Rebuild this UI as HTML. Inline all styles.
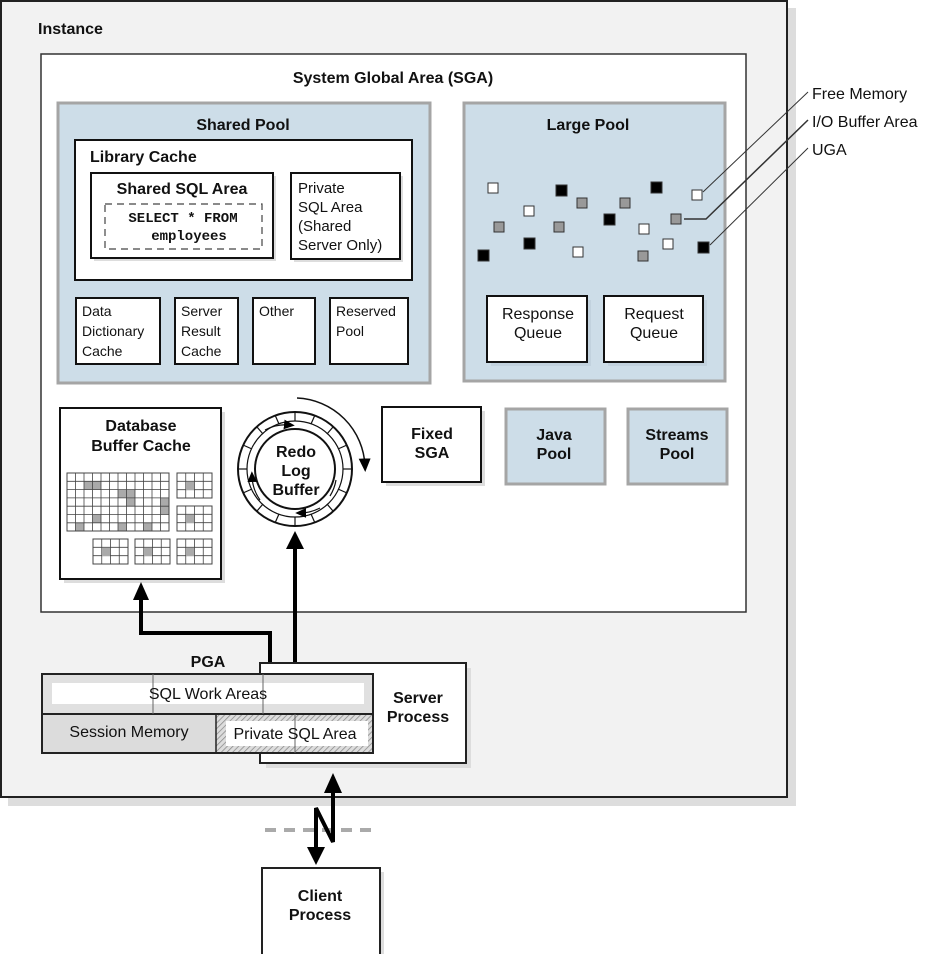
<!DOCTYPE html>
<html><head><meta charset="utf-8"><style>
html,body{margin:0;padding:0;background:#fff}
svg{display:block}
text{font-family:"Liberation Sans",Arial,sans-serif;fill:#111}
.b{font-weight:bold}
</style></head><body>
<svg width="949" height="954" viewBox="0 0 949 954" xmlns="http://www.w3.org/2000/svg">
<defs>
<pattern id="hatch" width="4" height="4" patternUnits="userSpaceOnUse" patternTransform="rotate(45)">
<rect width="4" height="4" fill="#ddd"/><line x1="0" y1="0" x2="0" y2="4" stroke="#888" stroke-width="1.5"/>
</pattern>
<g id="sg">
<rect x="0" y="0" width="35" height="25" fill="#fff" stroke="#444" stroke-width="1"/>
<path d="M8.75 0V25M17.5 0V25M26.25 0V25M0 8.33H35M0 16.67H35" stroke="#444" stroke-width="0.8" fill="none"/>
</g>
<marker id="ah" markerWidth="10" markerHeight="10" refX="5" refY="5" orient="auto"><path d="M0,1 L9,5 L0,9z" fill="#000"/></marker>
</defs>

<rect x="8" y="8" width="788" height="798" fill="#ddd"/>
<rect x="1" y="1" width="786" height="796" fill="#f2f2f2" stroke="#222" stroke-width="2"/>
<text x="38" y="34" font-size="16" class="b">Instance</text>

<rect x="41" y="54" width="705" height="558" fill="#fff" stroke="#333" stroke-width="1.5"/>
<text x="393" y="83" font-size="16" class="b" text-anchor="middle">System Global Area (SGA)</text>

<rect x="58" y="103" width="372" height="280" fill="#cddde8" stroke="#a5a5a5" stroke-width="3"/>
<text x="243" y="130" font-size="16" class="b" text-anchor="middle">Shared Pool</text>
<rect x="75" y="140" width="337" height="140" fill="#fff" stroke="#111" stroke-width="2"/>
<text x="90" y="162" font-size="16" class="b">Library Cache</text>
<rect x="94" y="176" width="182" height="85" fill="#ddd"/>
<rect x="91" y="173" width="182" height="85" fill="#fff" stroke="#111" stroke-width="2"/>
<text x="182" y="194" font-size="16" class="b" text-anchor="middle">Shared SQL Area</text>
<rect x="105" y="204" width="157" height="45" fill="none" stroke="#444" stroke-width="1.2" stroke-dasharray="7,5"/>
<text x="183" y="222" font-size="14" text-anchor="middle" style="font-family:'Liberation Mono',monospace" class="b">SELECT * FROM</text>
<text x="189" y="240" font-size="14" text-anchor="middle" style="font-family:'Liberation Mono',monospace" class="b">employees</text>
<rect x="294" y="176" width="109" height="86" fill="#ddd"/>
<rect x="291" y="173" width="109" height="86" fill="#fff" stroke="#111" stroke-width="2"/>
<text font-size="15"><tspan x="298" y="193">Private</tspan><tspan x="298" y="212">SQL Area</tspan><tspan x="298" y="231">(Shared</tspan><tspan x="298" y="250">Server Only)</tspan></text>

<rect x="76" y="298" width="84" height="66" fill="#fff" stroke="#111" stroke-width="2"/>
<text font-size="14"><tspan x="82" y="316">Data</tspan><tspan x="82" y="336">Dictionary</tspan><tspan x="82" y="356">Cache</tspan></text>
<rect x="175" y="298" width="63" height="66" fill="#fff" stroke="#111" stroke-width="2"/>
<text font-size="14"><tspan x="181" y="316">Server</tspan><tspan x="181" y="336">Result</tspan><tspan x="181" y="356">Cache</tspan></text>
<rect x="253" y="298" width="62" height="66" fill="#fff" stroke="#111" stroke-width="2"/>
<text x="259" y="316" font-size="14">Other</text>
<rect x="330" y="298" width="78" height="66" fill="#fff" stroke="#111" stroke-width="2"/>
<text font-size="14"><tspan x="336" y="316">Reserved</tspan><tspan x="336" y="336">Pool</tspan></text>

<rect x="464" y="103" width="261" height="278" fill="#cddde8" stroke="#a5a5a5" stroke-width="3"/>
<text x="588" y="130" font-size="16" class="b" text-anchor="middle">Large Pool</text>
<g stroke="#333" stroke-width="1">
<rect x="488" y="183" width="10" height="10" fill="#fff"/>
<rect x="556" y="185" width="11" height="11" fill="#000"/>
<rect x="577" y="198" width="10" height="10" fill="#999"/>
<rect x="620" y="198" width="10" height="10" fill="#999"/>
<rect x="651" y="182" width="11" height="11" fill="#000"/>
<rect x="692" y="190" width="10" height="10" fill="#fff"/>
<rect x="524" y="206" width="10" height="10" fill="#fff"/>
<rect x="494" y="222" width="10" height="10" fill="#999"/>
<rect x="554" y="222" width="10" height="10" fill="#999"/>
<rect x="604" y="214" width="11" height="11" fill="#000"/>
<rect x="639" y="224" width="10" height="10" fill="#fff"/>
<rect x="671" y="214" width="10" height="10" fill="#999"/>
<rect x="524" y="238" width="11" height="11" fill="#000"/>
<rect x="478" y="250" width="11" height="11" fill="#000"/>
<rect x="573" y="247" width="10" height="10" fill="#fff"/>
<rect x="638" y="251" width="10" height="10" fill="#999"/>
<rect x="663" y="239" width="10" height="10" fill="#fff"/>
<rect x="698" y="242" width="11" height="11" fill="#000"/>
</g>
<rect x="491" y="300" width="100" height="66" fill="#c2d2de"/>
<rect x="487" y="296" width="100" height="66" fill="#fff" stroke="#111" stroke-width="2"/>
<text font-size="16" text-anchor="middle"><tspan x="538" y="319">Response</tspan><tspan x="538" y="338">Queue</tspan></text>
<rect x="608" y="300" width="99" height="66" fill="#c2d2de"/>
<rect x="604" y="296" width="99" height="66" fill="#fff" stroke="#111" stroke-width="2"/>
<text font-size="16" text-anchor="middle"><tspan x="654" y="319">Request</tspan><tspan x="654" y="338">Queue</tspan></text>

<g stroke="#333" stroke-width="1" fill="none">
<path d="M703,192 L808,92"/>
<path d="M684,219 L706,219 L808,120" stroke-width="1.5"/>
<path d="M710,245 L808,148"/>
</g>
<text font-size="16"><tspan x="812" y="99">Free Memory</tspan><tspan x="812" y="127">I/O Buffer Area</tspan><tspan x="812" y="155">UGA</tspan></text>

<rect x="64" y="412" width="161" height="171" fill="#ddd"/>
<rect x="60" y="408" width="161" height="171" fill="#fff" stroke="#111" stroke-width="2"/>
<text font-size="16" class="b" text-anchor="middle"><tspan x="141" y="431">Database</tspan><tspan x="141" y="451">Buffer Cache</tspan></text>
<g fill="#aaa">
<rect x="84" y="481.3" width="17" height="8.3"/><rect x="118" y="489.6" width="17" height="8.3"/><rect x="126.5" y="497.9" width="8.5" height="8.3"/>
<rect x="160.5" y="497.9" width="8.5" height="16.6"/><rect x="92.5" y="514.5" width="8.5" height="8.3"/><rect x="75.5" y="522.8" width="8.5" height="8.2"/><rect x="118" y="522.8" width="8.5" height="8.2"/><rect x="143.5" y="522.8" width="8.5" height="8.2"/>
</g>
<rect x="67" y="473" width="102" height="58" fill="none" stroke="#444" stroke-width="1"/>
<path d="M75.5 473V531M84 473V531M92.5 473V531M101 473V531M109.5 473V531M118 473V531M126.5 473V531M135 473V531M143.5 473V531M152 473V531M160.5 473V531M67 481.3H169M67 489.6H169M67 497.9H169M67 506.2H169M67 514.5H169M67 522.8H169" stroke="#444" stroke-width="0.8" fill="none"/>
<use href="#sg" x="177" y="473"/><use href="#sg" x="177" y="506"/>
<use href="#sg" x="93" y="539"/><use href="#sg" x="135" y="539"/><use href="#sg" x="177" y="539"/>
<g fill="#aaa"><rect x="186" y="482" width="8" height="8"/><rect x="186" y="515" width="8" height="8"/><rect x="102" y="548" width="8" height="8"/><rect x="144" y="548" width="8" height="8"/><rect x="186" y="548" width="8" height="8"/></g>

<circle cx="295" cy="469" r="57" fill="#fff" stroke="#111" stroke-width="2"/>
<circle cx="295" cy="469" r="48" fill="none" stroke="#111" stroke-width="1.2"/>
<circle cx="295" cy="469" r="40" fill="#fff" stroke="#111" stroke-width="2"/>
<g stroke="#111" stroke-width="1.2">
<line x1="295" y1="412" x2="295" y2="421"/><line x1="295" y1="517" x2="295" y2="526"/>
<line x1="315" y1="415" x2="311" y2="424"/><line x1="333" y1="427" x2="327" y2="434"/>
<line x1="347" y1="445" x2="338" y2="449"/><line x1="352" y1="469" x2="343" y2="469"/>
<line x1="347" y1="493" x2="338" y2="489"/><line x1="333" y1="511" x2="327" y2="504"/>
<line x1="275" y1="415" x2="279" y2="424"/><line x1="257" y1="427" x2="263" y2="434"/>
<line x1="243" y1="445" x2="252" y2="449"/><line x1="238" y1="469" x2="247" y2="469"/>
<line x1="243" y1="493" x2="252" y2="489"/><line x1="257" y1="511" x2="263" y2="504"/>
<line x1="275" y1="523" x2="279" y2="514"/><line x1="315" y1="523" x2="311" y2="514"/>
</g>
<g stroke="#111" stroke-width="1.2" fill="none">
<path d="M265,430 A44,44 0 0 1 290,425" marker-end="url(#ah)"/>
<path d="M320,508 A44,44 0 0 1 300,513" marker-end="url(#ah)"/>
<path d="M260,500 A44,44 0 0 1 252,476" marker-end="url(#ah)"/>
<path d="M336,480 A44,44 0 0 1 330,496"/>
<path d="M297,398 A71,71 0 0 1 365,466" stroke-width="1.5" marker-end="url(#ah)"/>
</g>
<text font-size="16" class="b" text-anchor="middle"><tspan x="296" y="457">Redo</tspan><tspan x="296" y="476">Log</tspan><tspan x="296" y="495">Buffer</tspan></text>

<rect x="386" y="411" width="99" height="75" fill="#ddd"/>
<rect x="382" y="407" width="99" height="75" fill="#fff" stroke="#111" stroke-width="2"/>
<text font-size="16" class="b" text-anchor="middle"><tspan x="432" y="439">Fixed</tspan><tspan x="432" y="458">SGA</tspan></text>
<rect x="506" y="409" width="99" height="75" fill="#cddde8" stroke="#a5a5a5" stroke-width="3"/>
<text font-size="16" class="b" text-anchor="middle"><tspan x="554" y="440">Java</tspan><tspan x="554" y="459">Pool</tspan></text>
<rect x="628" y="409" width="99" height="75" fill="#cddde8" stroke="#a5a5a5" stroke-width="3"/>
<text font-size="16" class="b" text-anchor="middle"><tspan x="677" y="440">Streams</tspan><tspan x="677" y="459">Pool</tspan></text>

<path d="M270,664 V633 H141 V598" fill="none" stroke="#000" stroke-width="4"/>
<path d="M133,600 L141,582 L149,600z" fill="#000"/>
<path d="M295,664 V546" fill="none" stroke="#000" stroke-width="4"/>
<path d="M286,549 L295,531 L304,549z" fill="#000"/>

<rect x="266" y="668" width="205" height="100" fill="#ddd"/>
<rect x="260" y="663" width="206" height="100" fill="#fff" stroke="#222" stroke-width="2"/>
<text font-size="16" class="b" text-anchor="middle"><tspan x="418" y="703">Server</tspan><tspan x="418" y="722">Process</tspan></text>

<text x="208" y="667" font-size="16" class="b" text-anchor="middle">PGA</text>
<rect x="42" y="674" width="331" height="40" fill="#e0e0e0"/>
<rect x="52" y="683" width="312" height="21" fill="#fff"/>
<rect x="42" y="714" width="174" height="39" fill="#dcdcdc"/>
<rect x="216" y="714" width="157" height="39" fill="url(#hatch)"/>
<rect x="226" y="721" width="142" height="25" fill="#fff"/>
<rect x="42" y="674" width="331" height="79" fill="none" stroke="#222" stroke-width="2"/>
<line x1="42" y1="714" x2="373" y2="714" stroke="#222" stroke-width="2"/>
<line x1="216" y1="714" x2="216" y2="753" stroke="#222" stroke-width="1.5"/>
<g stroke="#666" stroke-width="1"><line x1="153" y1="674" x2="153" y2="714"/><line x1="263" y1="674" x2="263" y2="714"/><line x1="295" y1="714" x2="295" y2="753"/></g>
<text x="208" y="699" font-size="16" text-anchor="middle">SQL Work Areas</text>
<text x="129" y="737" font-size="16" text-anchor="middle">Session Memory</text>
<text x="295" y="739" font-size="16" text-anchor="middle">Private SQL Area</text>

<line x1="265" y1="830" x2="375" y2="830" stroke="#aaa" stroke-width="4" stroke-dasharray="11,8"/>
<path d="M333,790 V842 L316,808 V850" fill="none" stroke="#000" stroke-width="4"/>
<path d="M324,793 L333,773 L342,793z" fill="#000"/>
<path d="M307,847 L316,865 L325,847z" fill="#000"/>

<rect x="266" y="872" width="118" height="90" fill="#ddd"/>
<rect x="262" y="868" width="118" height="90" fill="#fff" stroke="#222" stroke-width="2"/>
<text font-size="16" class="b" text-anchor="middle"><tspan x="320" y="901">Client</tspan><tspan x="320" y="920">Process</tspan></text>
</svg>
</body></html>
